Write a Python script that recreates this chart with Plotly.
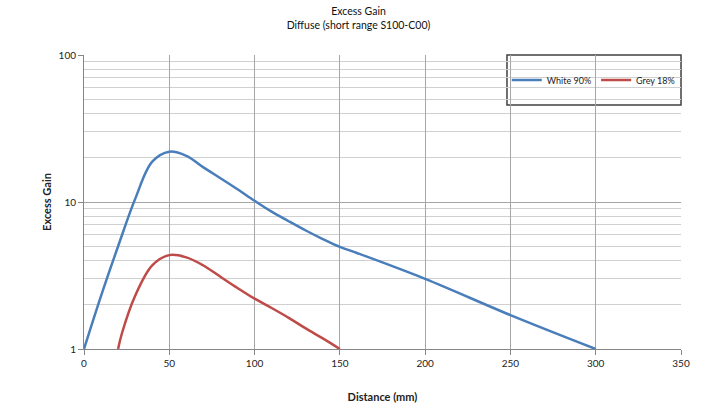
import plotly.graph_objects as go

# distance (mm) and excess gain
white_x = [0, 10, 20, 30, 40, 50, 60, 70, 80, 90, 100, 110, 120, 130, 140, 150, 160, 200, 250, 300]
white_y = [1.0, 2.3, 5.0, 10.5, 18.8, 22.0, 20.6, 17.2, 14.5, 12.2, 10.2, 8.6, 7.4, 6.4, 5.6, 4.95, 4.5, 3.0, 1.7, 1.0]

grey_x = [20, 22, 30, 40, 50, 60, 70, 80, 90, 100, 110, 120, 130, 140, 150]
grey_y = [1.0, 1.25, 2.3, 3.7, 4.35, 4.2, 3.7, 3.1, 2.6, 2.2, 1.9, 1.63, 1.38, 1.18, 1.0]

x_ticks = [0, 50, 100, 150, 200, 250, 300, 350]

FONT = "Lato"

fig = go.Figure()
fig.add_trace(go.Scatter(x=white_x, y=white_y, name="White 90%", mode="lines",
                         line=dict(color="#4a7ebb", width=2.5, shape="spline", smoothing=1.0)))
fig.add_trace(go.Scatter(x=grey_x, y=grey_y, name="Grey 18%", mode="lines",
                         line=dict(color="#be4b48", width=2.5, shape="spline", smoothing=1.0)))

fig.update_layout(
    width=717, height=416,
    margin=dict(l=84, r=36, t=55, b=67),
    paper_bgcolor="white", plot_bgcolor="white",
    font=dict(family=FONT, size=10, color="#222"),
    title=dict(text="Excess Gain<br>Diffuse (short range S100-C00)",
               x=0.5, xanchor="center", xref="container", y=1, yref="paper", yanchor="bottom",
               pad=dict(b=40), font=dict(family=FONT, size=10.5, color="#111")),
    xaxis=dict(range=[0, 350], tickvals=x_ticks, showgrid=True, gridcolor="#a6a6a6",
               gridwidth=1, showline=True, linecolor="#868686", ticks="outside",
               ticklen=5, tickcolor="#868686", zeroline=False, automargin=False,
               title=dict(text="<b>Distance (mm)</b>", font=dict(size=11), standoff=25)),
    yaxis=dict(type="log", range=[0, 2], tickvals=[1, 10, 100], ticktext=["1", "10", "100"],
               showgrid=True, gridcolor="#a6a6a6", showline=True, linecolor="#868686",
               ticks="outside", ticklen=5, tickcolor="#868686", zeroline=False, automargin=False,
               minor=dict(showgrid=True, gridcolor="#d0d0d0", tickvals=[2, 3, 4, 5, 6, 7, 8, 9,
                          20, 30, 40, 50, 60, 70, 80, 90]),
               title=dict(text="<b>Excess Gain</b>", font=dict(size=11), standoff=4)),
    legend=dict(orientation="h", x=0.853, xanchor="center", y=0.915, yanchor="middle",
                bgcolor="rgba(0,0,0,0)", font=dict(size=9), itemwidth=30),
    shapes=[dict(type="rect", xref="paper", yref="paper", x0=0.7085, x1=1.0, y0=0.83, y1=1.0,
                 line=dict(color="#404040", width=1.5), fillcolor="white", layer="below")],
)

# drop the default page margin so the figure sits at the window corner
fig.write_html("out.html", config={"displayModeBar": False},
               post_script="document.body.style.margin='0';")
